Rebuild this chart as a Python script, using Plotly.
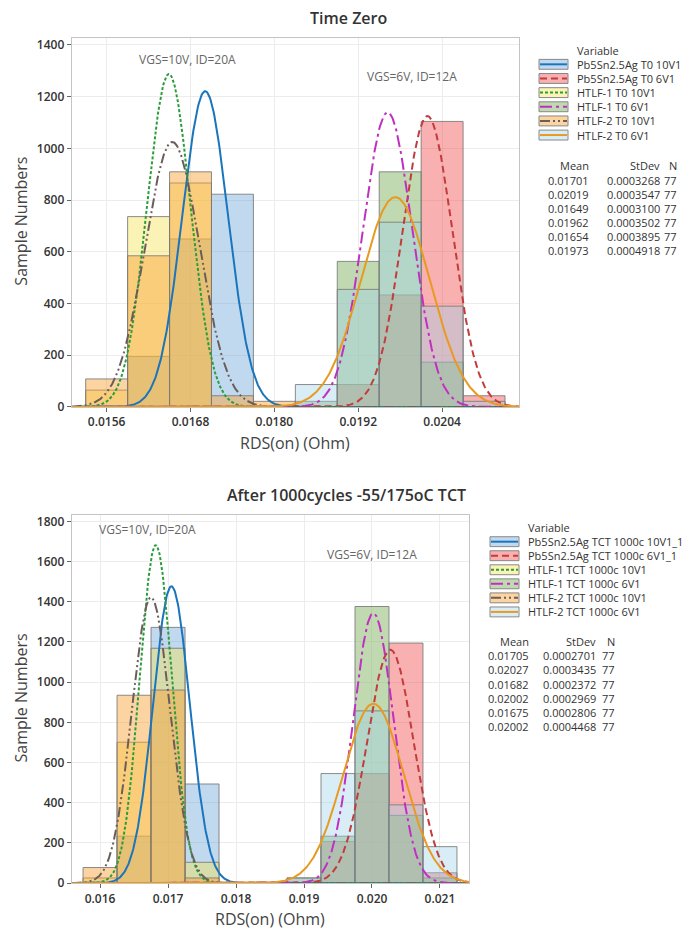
import plotly.graph_objects as go
import numpy as np

W, H = 693, 936

# ---------------- data ----------------
series_names_top = ["Pb5Sn2.5Ag T0 10V1", "Pb5Sn2.5Ag T0 6V1", "HTLF-1 T0 10V1",
                    "HTLF-1 T0 6V1", "HTLF-2 T0 10V1", "HTLF-2 T0 6V1"]
series_names_bot = ["Pb5Sn2.5Ag TCT 1000c 10V1_1", "Pb5Sn2.5Ag TCT 1000c 6V1_1", "HTLF-1 TCT 1000c 10V1",
                    "HTLF-1 TCT 1000c 6V1", "HTLF-2 TCT 1000c 10V1", "HTLF-2 TCT 1000c 6V1"]

top_bins = [0.0156, 0.0162, 0.0168, 0.0174, 0.0180, 0.0186, 0.0192, 0.0198, 0.0204, 0.0210]
top_binwidth = 0.0006
top_counts = [
    [0, 9, 30, 38, 0, 0, 0, 0, 0, 0],      # Pb 10V
    [0, 0, 0, 0, 0, 0, 4, 20, 51, 2],      # Pb 6V
    [3, 34, 40, 0, 0, 0, 0, 0, 0, 0],      # HTLF-1 10V
    [0, 0, 0, 0, 0, 1, 26, 42, 8, 0],      # HTLF-1 6V
    [5, 27, 42, 2, 1, 0, 0, 0, 0, 0],      # HTLF-2 10V
    [0, 0, 0, 0, 0, 4, 21, 33, 18, 1],     # HTLF-2 6V
]
top_mean = [0.01701, 0.02019, 0.01649, 0.01962, 0.01654, 0.01973]
top_sd = [0.0003268, 0.0003547, 0.0003100, 0.0003502, 0.0003895, 0.0004918]
top_n = [77, 77, 77, 77, 77, 77]

bot_bins = [0.0160, 0.0165, 0.0170, 0.0175, 0.0180, 0.0185, 0.0190, 0.0195, 0.0200, 0.0205, 0.0210]
bot_binwidth = 0.0005
bot_counts = [
    [0, 9, 49, 19, 0, 0, 0, 0, 0, 0, 0],     # Pb 10V
    [0, 0, 0, 0, 0, 0, 0, 8, 21, 46, 2],     # Pb 6V
    [1, 27, 45, 4, 0, 0, 0, 0, 0, 0, 0],     # HTLF-1 10V
    [0, 0, 0, 0, 0, 0, 1, 9, 53, 13, 1],     # HTLF-1 6V
    [3, 36, 37, 1, 0, 0, 0, 0, 0, 0, 0],     # HTLF-2 10V
    [0, 0, 0, 0, 0, 0, 1, 21, 33, 15, 7],    # HTLF-2 6V
]
bot_mean = [0.01705, 0.02027, 0.01682, 0.02002, 0.01675, 0.02002]
bot_sd = [0.0002701, 0.0003435, 0.0002372, 0.0002969, 0.0002806, 0.0004468]
bot_n = [77, 77, 77, 77, 77, 77]

top_xticks = [0.0156, 0.0168, 0.0180, 0.0192, 0.0204]
bot_xticks = [0.016, 0.017, 0.018, 0.019, 0.020, 0.021]
top_yticks = [0, 200, 400, 600, 800, 1000, 1200, 1400]
bot_yticks = [0, 200, 400, 600, 800, 1000, 1200, 1400, 1600, 1800]

# ---------------- styles ----------------
fills = ["rgba(91,155,213,0.38)", "rgba(240,80,80,0.45)", "rgba(245,225,80,0.42)",
         "rgba(130,180,100,0.5)", "rgba(248,160,48,0.45)", "rgba(160,210,235,0.4)"]
lcols = ["#1a75bc", "#c23b3d", "#2a9d3a", "#c030c0", "#6a5e5a", "#e89a20"]
dashes = ["solid", "7px,4px", "3px,2px", "12px,4px,3px,4px", "10px,3px,2px,3px,2px,3px", "solid"]

FONT = "Open Sans"

def px(x):
    return x / W

def py(y):
    return 1 - y / H

fig = go.Figure()

def add_chart(bins, bw, counts, means, sds, ns, xa, ya, xrange):
    for i in range(6):
        xs = [b for b, c in zip(bins, counts[i]) if c > 0]
        ys = [c / (ns[i] * bw) for c in counts[i] if c > 0]
        fig.add_trace(go.Bar(x=xs, y=ys, width=bw, xaxis=xa, yaxis=ya,
                             marker=dict(color=fills[i], line=dict(color="rgba(120,120,120,0.85)", width=1)),
                             showlegend=False, hoverinfo="skip"))
    xg = np.linspace(xrange[0], xrange[1], 600)
    for i in range(6):
        yg = np.exp(-0.5 * ((xg - means[i]) / sds[i]) ** 2) / (sds[i] * np.sqrt(2 * np.pi))
        fig.add_trace(go.Scatter(x=xg, y=yg, mode="lines", xaxis=xa, yaxis=ya,
                                 line=dict(color=lcols[i], width=2, dash=dashes[i]),
                                 showlegend=False, hoverinfo="skip"))

top_xr = [0.0151, 0.0215]
bot_xr = [0.015583, 0.021427]
add_chart(top_bins, top_binwidth, top_counts, top_mean, top_sd, top_n, "x", "y", top_xr)
add_chart(bot_bins, bot_binwidth, bot_counts, bot_mean, bot_sd, bot_n, "x2", "y2", bot_xr)

axis_common = dict(showgrid=True, gridcolor="#ececec", gridwidth=1, showline=True, linecolor="#c4c4c4",
                   linewidth=1, mirror=True, ticks="outside", ticklen=4, tickcolor="#666",
                   tickfont=dict(family=FONT, size=12, color="#333", weight=600), zeroline=False)

fig.update_layout(
    width=W, height=H, margin=dict(l=0, r=0, t=0, b=0),
    paper_bgcolor="white", plot_bgcolor="white", barmode="overlay", showlegend=False,
    xaxis=dict(domain=[px(71.7), px(519)], range=top_xr, anchor="y", tickvals=top_xticks,
               ticktext=[f"{v:.4f}" for v in top_xticks], **axis_common),
    yaxis=dict(domain=[py(409.3), py(36)], range=[0, 1428], anchor="x", tickvals=top_yticks, **axis_common),
    xaxis2=dict(domain=[px(71.7), px(469)], range=bot_xr, anchor="y2", tickvals=bot_xticks,
                ticktext=[f"{v:.3f}" for v in bot_xticks], **axis_common),
    yaxis2=dict(domain=[py(890.7), py(518.3)], range=[0, 1833], anchor="x2", tickvals=bot_yticks, **axis_common),
)

ann = []
def text(x, y, s, size=11, color="#333", anchor="left", weight=400, angle=0):
    ann.append(dict(x=px(x), y=py(y), xref="paper", yref="paper", text=s, showarrow=False,
                    xanchor=anchor, yanchor="middle", textangle=angle,
                    font=dict(family=FONT, size=size, color=color, weight=weight)))

# titles
text(348, 16, "Time Zero", size=16, anchor="center", weight=600, color="#333")
text(346, 498, "After 1000cycles -55/175oC TCT", size=16, anchor="center", weight=600, color="#333")
# axis titles
text(21, 222, "Sample Numbers", size=16, anchor="center", color="#444", angle=-90)
text(21, 704, "Sample Numbers", size=16, anchor="center", color="#444", angle=-90)
text(295, 446, "RDS(on) (Ohm)", size=16, anchor="center", color="#444")
text(270, 927, "RDS(on) (Ohm)", size=16, anchor="center", color="#444")
# in-plot labels
text(187, 58, "VGS=10V, ID=20A", size=12, anchor="center", color="#666")
text(412, 75, "VGS=6V, ID=12A", size=12, anchor="center", color="#666")
text(147, 533, "VGS=10V, ID=20A", size=12, anchor="center", color="#666")
text(372, 558, "VGS=6V, ID=12A", size=12, anchor="center", color="#666")

shapes = []
def legend(x_patch, x_text, y_title, y_rows, names, fs):
    text(x_text, y_title, "Variable", size=fs, anchor="left")
    for i, (yr, nm) in enumerate(zip(y_rows, names)):
        shapes.append(dict(type="rect", xref="paper", yref="paper",
                           x0=px(x_patch), x1=px(x_patch + 29), y0=py(yr + 5), y1=py(yr - 5),
                           fillcolor=fills[i], line=dict(color="#888", width=1)))
        shapes.append(dict(type="line", xref="paper", yref="paper",
                           x0=px(x_patch + 1), x1=px(x_patch + 28), y0=py(yr), y1=py(yr),
                           line=dict(color=lcols[i], width=2, dash=dashes[i])))
        text(x_text, yr, nm, size=fs, anchor="left")

def stats(x_mean, x_sd, x_n, y_head, y_rows, means, sds, ns, fs):
    text(x_mean, y_head, "Mean", anchor="right", size=fs)
    text(x_sd, y_head, "StDev", anchor="right", size=fs)
    text(x_n, y_head, "N", anchor="right", size=fs)
    for yr, m, s, n in zip(y_rows, means, sds, ns):
        text(x_mean, yr, f"{m:.5f}", anchor="right", size=fs)
        text(x_sd, yr, f"{s:.7f}", anchor="right", size=fs)
        text(x_n, yr, str(n), anchor="right", size=fs)

legend(539, 575, 49, [63, 77.3, 91.6, 105.9, 120.2, 134.5], series_names_top, 11)
stats(591, 662, 679, 165.5, [180, 194.2, 208.4, 222.6, 236.8, 251], top_mean, top_sd, top_n, 11)
legend(490, 526, 531.5, [545.5, 559.7, 573.9, 588.1, 602.3, 616.5], series_names_bot, 11)
stats(531, 598, 617, 646, [661, 675.2, 689.4, 703.6, 717.8, 732], bot_mean, bot_sd, bot_n, 11)

fig.update_layout(annotations=ann, shapes=shapes)

fig.write_html("out.html", config={"displayModeBar": False},
               post_script="document.body.style.margin='0';")
